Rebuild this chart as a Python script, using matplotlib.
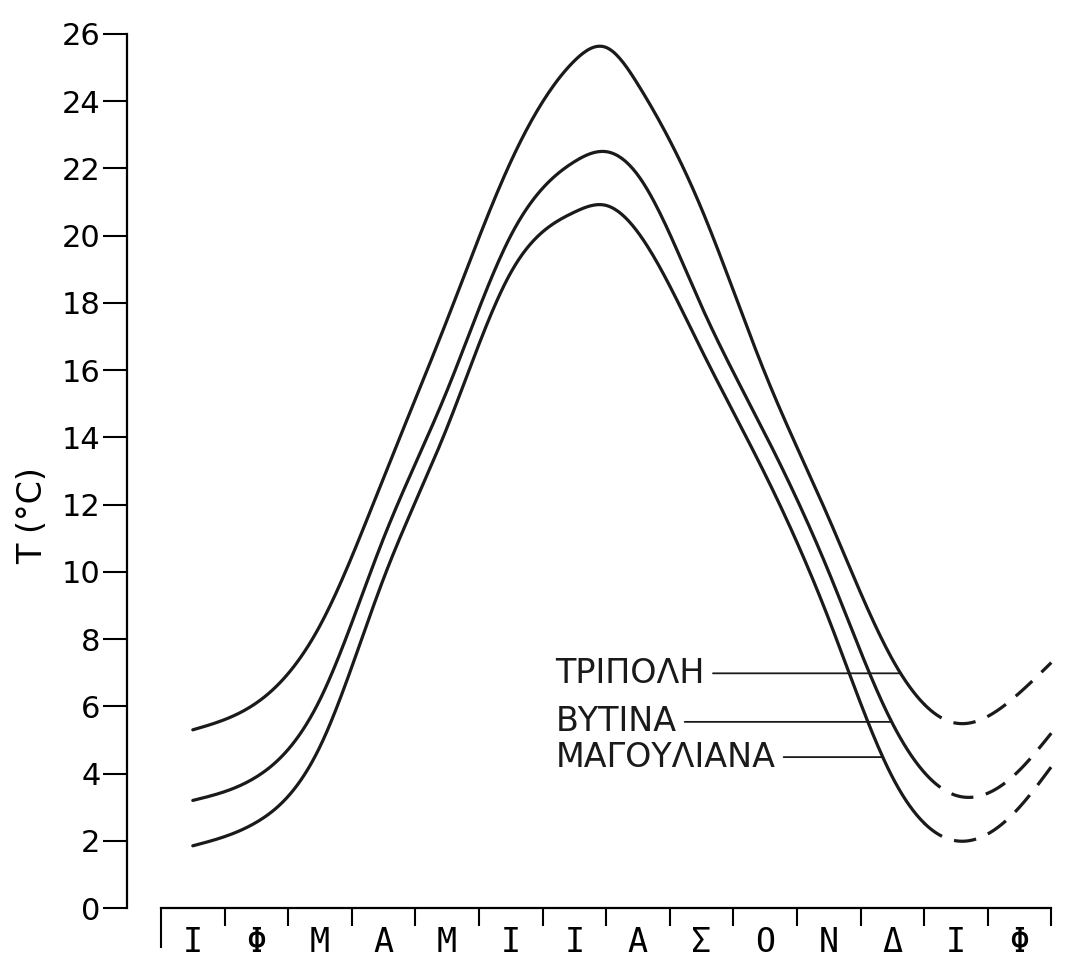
import numpy as np
import matplotlib.pyplot as plt

# μήνες (Ιανουάριος ... Φεβρουάριος επόμενου έτους)
months = ['Ι', 'Φ', 'Μ', 'Α', 'Μ', 'Ι', 'Ι', 'Α', 'Σ', 'Ο', 'Ν', 'Δ', 'Ι', 'Φ']

# θέση των τιμών σε μήνες: μέσο κάθε μήνα, το μέγιστο (τέλος Ιουλίου) και το τέλος της καταγραφής
x_pos = [0.5, 1.5, 2.5, 3.5, 4.5, 5.5, 6.5, 7.0, 7.5, 8.5, 9.5, 10.5, 11.5, 12.5, 13.5, 14.0]

# μέση θερμοκρασία (°C)
tripoli = [5.3, 6.1, 8.4, 12.8, 17.5, 22.2, 25.2, 25.6, 24.5, 20.8, 15.9, 11.6, 7.4, 5.5, 6.4, 7.3]
vytina = [3.2, 3.9, 6.2, 11.0, 15.4, 20.0, 22.2, 22.5, 21.8, 17.9, 14.1, 10.0, 5.5, 3.35, 4.1, 5.2]
magouliana = [1.85, 2.55, 4.8, 9.8, 14.3, 18.9, 20.7, 20.9, 20.1, 16.6, 12.9, 8.6, 3.9, 2.0, 3.0, 4.2]

names = ['ΤΡΙΠΟΛΗ', 'ΒΥΤΙΝΑ', 'ΜΑΓΟΥΛΙΑΝΑ']
leader_x = [11.63, 11.49, 11.35]   # σημείο όπου καταλήγει η γραμμή του ονόματος
solid_end = 12.0                   # μετά τον Δεκέμβριο η καμπύλη γίνεται διακεκομμένη


def spline(x, y, xs):
    # φυσική κυβική spline για ομαλή καμπύλη
    x = np.asarray(x, float)
    y = np.asarray(y, float)
    n = len(x)
    h = np.diff(x)
    A = np.zeros((n, n))
    r = np.zeros(n)
    A[0, 0] = A[-1, -1] = 1
    for i in range(1, n - 1):
        A[i, i - 1] = h[i - 1]
        A[i, i] = 2 * (h[i - 1] + h[i])
        A[i, i + 1] = h[i]
        r[i] = 3 * ((y[i + 1] - y[i]) / h[i] - (y[i] - y[i - 1]) / h[i - 1])
    c = np.linalg.solve(A, r)
    b = (y[1:] - y[:-1]) / h - h * (2 * c[:-1] + c[1:]) / 3
    d = (c[1:] - c[:-1]) / (3 * h)
    idx = np.clip(np.searchsorted(x, xs) - 1, 0, n - 2)
    t = xs - x[idx]
    return y[idx] + b[idx] * t + c[idx] * t ** 2 + d[idx] * t ** 3


fig = plt.figure(figsize=(10.66, 9.57), dpi=100)
ax = fig.add_axes([127 / 1066, 49 / 957, (1064 - 127) / 1066, 874 / 957])

xs_solid = np.linspace(x_pos[0], solid_end, 400)
xs_dash = np.linspace(solid_end, x_pos[-1], 120)

for vals, name, lx in zip([tripoli, vytina, magouliana], names, leader_x):
    ax.plot(xs_solid, spline(x_pos, vals, xs_solid), color='#1a1a1a', lw=2.3,
            solid_capstyle='round', clip_on=False)
    ax.plot(xs_dash, spline(x_pos, vals, xs_dash), color='#1a1a1a', lw=2.3,
            dashes=(7, 4), clip_on=False)
    ly = float(spline(x_pos, vals, np.array([lx]))[0])
    ax.annotate(name, xy=(lx, ly), xytext=(6.2, ly), fontsize=24,
                family='DejaVu Sans', ha='left', va='center', color='#1a1a1a',
                arrowprops=dict(arrowstyle='-', lw=1.3, color='#1a1a1a',
                                shrinkA=4, shrinkB=0))

ax.set_xlim(-34 / 63.6, 14.2)
ax.set_ylim(0, 26)

ax.spines['top'].set_visible(False)
ax.spines['right'].set_visible(False)
ax.spines['left'].set_linewidth(1.6)
ax.spines['bottom'].set_linewidth(1.6)
ax.spines['bottom'].set_bounds(0, 14)

ax.set_yticks(np.arange(0, 27, 2))
ax.tick_params(axis='y', direction='out', length=17, width=1.5, pad=2,
               labelsize=22)

# άξονας μηνών: χαραγές στα όρια, ονόματα στο μέσο
ax.set_xticks(np.arange(0, 15))
ax.set_xticklabels([])
ax.set_xticks(np.arange(0.5, 14), minor=True)
ax.set_xticklabels(months, minor=True, family='DejaVu Sans Mono', fontsize=24)
ax.tick_params(axis='x', which='major', direction='out', length=13, width=1.5)
ax.tick_params(axis='x', which='minor', length=0, pad=13)
ax.xaxis.get_major_ticks()[0].tick1line.set_markersize(29)

ax.set_ylabel('T (°C)', fontsize=24)
ax.yaxis.set_label_coords(-0.083, 0.4485)

fig.savefig('out.png', dpi=100, facecolor='white')
